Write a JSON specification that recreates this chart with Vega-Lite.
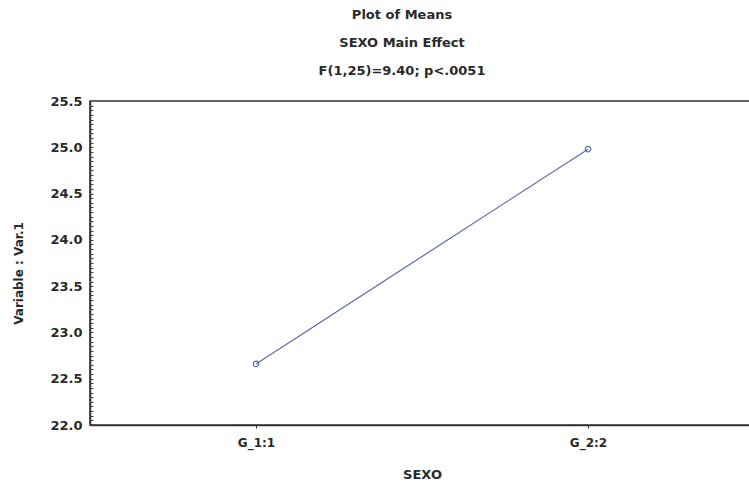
{
  "$schema": "https://vega.github.io/schema/vega-lite/v6.json",
  "autosize": "none",
  "width": 664,
  "height": 324,
  "padding": {"left": 90, "top": 101, "right": 0, "bottom": 57},
  "background": "#ffffff",
  "config": {
    "view": {"stroke": "#333333", "strokeWidth": 1.5},
    "font": "DejaVu Sans"
  },
  "title": {
    "text": ["Plot of Means", "SEXO Main Effect", "F(1,25)=9.40; p<.0051"],
    "fontSize": 13,
    "fontWeight": "bold",
    "color": "#2a2a2a",
    "lineHeight": 28,
    "offset": 17,
    "dx": -20,
    "anchor": "middle",
    "frame": "group"
  },
  "data": {
    "values": [
      {"SEXO": "G_1:1", "mean": 22.66},
      {"SEXO": "G_2:2", "mean": 24.98}
    ]
  },
  "layer": [
    {
      "mark": {"type": "line", "color": "#5b6aa8", "strokeWidth": 1.2},
      "encoding": {
        "x": {
          "field": "SEXO",
          "type": "ordinal",
          "scale": {"type": "point", "padding": 0.5},
          "axis": {
            "title": "SEXO",
            "titleFontSize": 13,
            "titleFontWeight": "bold",
            "titleColor": "#2a2a2a",
            "titlePadding": 20,
            "labelAngle": 0,
            "labelFontSize": 12,
            "labelFontWeight": "bold",
            "labelColor": "#2a2a2a",
            "labelPadding": 9,
            "tickSize": 3,
            "tickColor": "#333333",
            "domainColor": "#333333",
            "domainWidth": 1.5,
            "grid": false
          }
        },
        "y": {
          "field": "mean",
          "type": "quantitative",
          "scale": {"domain": [22.0, 25.5], "nice": false, "zero": false},
          "axis": {
            "title": "Variable : Var.1",
            "titleFontSize": 12,
            "titleFontWeight": "bold",
            "titleColor": "#2a2a2a",
            "titlePadding": 24,
            "titleY": 172,
            "values": [22.0, 22.5, 23.0, 23.5, 24.0, 24.5, 25.0, 25.5],
            "format": ".1f",
            "labelFontSize": 13,
            "labelFontWeight": "bold",
            "labelColor": "#2a2a2a",
            "labelPadding": 8,
            "tickSize": 0,
            "domainColor": "#333333",
            "domainWidth": 1.5,
            "grid": false
          }
        }
      }
    },
    {
      "mark": {"type": "point", "shape": "circle", "filled": false, "color": "#5b6aa8", "size": 30, "strokeWidth": 1.2, "opacity": 1},
      "encoding": {
        "x": {"field": "SEXO", "type": "ordinal"},
        "y": {
          "field": "mean",
          "type": "quantitative",
          "axis": {
            "orient": "left",
            "title": null,
            "labels": false,
            "domain": false,
            "grid": false,
            "values": [22.05, 22.1, 22.15, 22.2, 22.25, 22.3, 22.35, 22.4, 22.45, 22.5, 22.55, 22.6, 22.65, 22.7, 22.75, 22.8, 22.85, 22.9, 22.95, 23.0, 23.05, 23.1, 23.15, 23.2, 23.25, 23.3, 23.35, 23.4, 23.45, 23.5, 23.55, 23.6, 23.65, 23.7, 23.75, 23.8, 23.85, 23.9, 23.95, 24.0, 24.05, 24.1, 24.15, 24.2, 24.25, 24.3, 24.35, 24.4, 24.45, 24.5, 24.55, 24.6, 24.65, 24.7, 24.75, 24.8, 24.85, 24.9, 24.95, 25.0, 25.05, 25.1, 25.15, 25.2, 25.25, 25.3, 25.35, 25.4, 25.45],
            "tickSize": -3,
            "tickColor": "#444444",
            "tickWidth": 1
          }
        }
      }
    }
  ],
  "resolve": {"axis": {"y": "independent"}}
}
